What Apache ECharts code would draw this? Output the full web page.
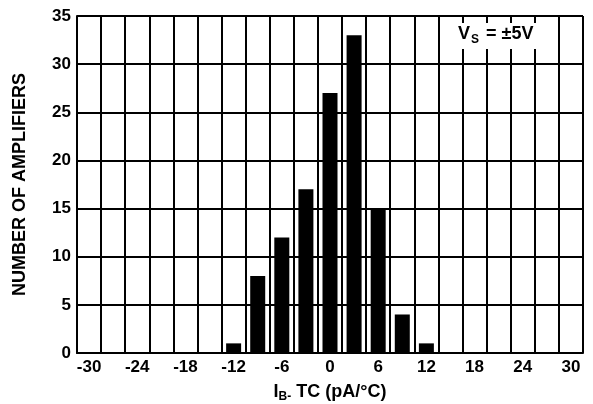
<!DOCTYPE html>
<html>
<head>
<meta charset="utf-8">
<style>
html,body{margin:0;padding:0;background:#fff;}
#c{width:593px;height:404px;}
</style>
<script src="https://cdn.jsdelivr.net/npm/echarts@6/dist/echarts.min.js"></script>
</head>
<body>
<div id="c"></div>
<script>
// x categories: bin centres of IB- TC (pA/°C)
var categories = ['-30','-27','-24','-21','-18','-15','-12','-9','-6','-3','0','3','6','9','12','15','18','21','24','27','30'];
// number of amplifiers per bin
var counts = [0,0,0,0,0,0,1,8,12,17,27,33,15,4,1,0,0,0,0,0,0];
var yTicks = {min:0, max:35, interval:5};

var FONT = '"Liberation Sans", Arial, Helvetica, sans-serif';
var chart = echarts.init(document.getElementById('c'), null, {renderer:'canvas'});
chart.setOption({
  animation:false,
  backgroundColor:'#fff',
  grid:{left:77, right:10, top:16, bottom:51, outerBoundsMode:'none', containLabel:false},
  xAxis:{
    type:'category',
    data:categories,
    boundaryGap:true,
    axisLine:{show:true, lineStyle:{color:'#000', width:2}},
    axisTick:{show:false},
    axisLabel:{interval:1, color:'#000', fontFamily:FONT, fontWeight:'bold', fontSize:17, margin:6},
    splitLine:{show:true, interval:0, lineStyle:{color:'#000', width:2}},
    name:'{i|I}{s|B-}{i| TC (pA/°C)}',
    nameLocation:'middle',
    nameGap:29,
    nameTextStyle:{
      color:'#000', fontFamily:FONT, fontWeight:'bold', fontSize:18,
      rich:{
        i:{color:'#000', fontFamily:FONT, fontWeight:'bold', fontSize:18, lineHeight:18},
        s:{color:'#000', fontFamily:FONT, fontWeight:'bold', fontSize:12, lineHeight:12, padding:[10,0,0,0]}
      }
    }
  },
  yAxis:{
    type:'value',
    min:yTicks.min, max:yTicks.max, interval:yTicks.interval,
    axisLine:{show:true, lineStyle:{color:'#000', width:2}},
    axisTick:{show:false},
    axisLabel:{color:'#000', fontFamily:FONT, fontWeight:'bold', fontSize:17, margin:6},
    splitLine:{show:true, lineStyle:{color:'#000', width:2}},
    name:'NUMBER OF AMPLIFIERS',
    nameLocation:'middle',
    nameGap:48,
    nameTextStyle:{color:'#000', fontFamily:FONT, fontWeight:'bold', fontSize:18}
  },
  series:[{
    type:'bar',
    data:counts,
    barWidth:15,
    itemStyle:{color:'#000'},
    silent:true
  }],
  graphic:[
    {type:'rect', left:455, top:23, shape:{width:82, height:26}, style:{fill:'#fff'}, z:100},
    {type:'text', left:458, top:25, z:101, style:{text:'V', font:'bold 18px '+FONT, fill:'#000'}},
    {type:'text', left:471, top:34, z:101, style:{text:'S', font:'bold 12px '+FONT, fill:'#000'}},
    {type:'text', left:486, top:25, z:101, style:{text:'= ±5V', font:'bold 18px '+FONT, fill:'#000'}}
  ]
});
</script>
</body>
</html>
